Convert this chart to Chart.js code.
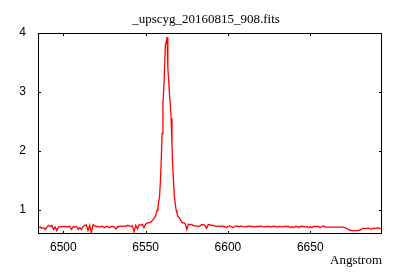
<!DOCTYPE html>
<html>
<head>
<meta charset="utf-8">
<script src="https://cdn.jsdelivr.net/npm/chart.js@4/dist/chart.umd.min.js"></script>
<style>
  html, body { margin:0; padding:0; background:#fff; }
  #wrap { width:400px; height:280px; }
</style>
</head>
<body>
<div id="wrap"><canvas id="spec"></canvas></div>
<script>
const chartTitle = '_upscyg_20160815_908.fits';
const xLabel = 'Angstrom';
const xTicks = [6500, 6550, 6600, 6650];
const yTicks = [1, 2, 3, 4];

// wavelength (Angstrom)
const wavelength = [
  6485,6486,6487,6488,6489,6490,6491,6492,6493,6494,
  6495,6496,6497,6498,6499,6500,6501,6502,6503,6504,
  6505,6506,6507,6508,6509,6510,6511,6512,6513,6514,
  6515,6516,6517,6518,6519,6520,6521,6522,6523,6524,
  6525,6526,6527,6528,6529,6530,6531,6532,6533,6534,
  6535,6536,6537,6538,6539,6540,6541,6542,6543,6544,
  6545,6546,6547,6548,6549,6550,6551,6552,6553,6554,
  6555,6556,
  6556.5,6557,6557.5,6558,6558.5,6559,6559.5,6560,6560.5,6561,
  6561.5,6562,6562.5,6563,6563.5,6564,6564.5,6565,6565.5,6566,
  6566.5,6567,6567.5,6568,6568.5,6569,6569.5,6570,
  6571,6572,6573,6574,6575,6576,6577,6578,6579,6580,
  6581,6582,6583,6584,6585,6586,6587,6588,6589,6590,
  6591,6592,6593,6594,6595,6596,6597,6598,6599,6600,
  6601,6602,6603,6604,6605,6606,6607,6608,6609,6610,
  6611,6612,6613,6614,6615,6616,6617,6618,6619,6620,
  6621,6622,6623,6624,6625,6626,6627,6628,6629,6630,
  6631,6632,6633,6634,6635,6636,6637,6638,6639,6640,
  6641,6642,6643,6644,6645,6646,6647,6648,6649,6650,
  6651,6652,6653,6654,6655,6656,6657,6658,6659,6660,
  6661,6662,6663,6664,6665,6666,6667,6668,6669,6670,
  6671,6672,6673,6674,6675,6676,6677,6678,6679,6680,
  6681,6682,6683,6684,6685,6686,6687,6688,6689,6690,
  6691,6692,6693,6694
];

// normalised flux
const flux = [
  0.70,0.71,0.69,0.70,0.67,0.71,0.74,0.72,0.74,0.67,
  0.71,0.65,0.71,0.72,0.71,0.72,0.72,0.71,0.72,0.72,
  0.67,0.72,0.71,0.72,0.67,0.70,0.67,0.72,0.74,0.75,
  0.65,0.74,0.61,0.75,0.73,0.72,0.72,0.71,0.72,0.72,
  0.70,0.72,0.72,0.70,0.72,0.72,0.71,0.68,0.72,0.72,
  0.73,0.72,0.73,0.72,0.74,0.73,0.72,0.73,0.63,0.74,
  0.68,0.75,0.74,0.76,0.70,0.76,0.78,0.78,0.79,0.82,
  0.85,0.90,
  0.95,1.00,1.05,1.15,1.25,1.50,1.85,2.30,2.80,3.05,
  3.40,3.80,3.85,3.93,3.40,3.20,2.95,2.80,2.55,2.10,
  1.70,1.45,1.22,1.10,1.00,0.95,0.90,0.88,
  0.84,0.79,0.78,0.77,0.67,0.76,0.75,0.76,0.73,0.73,
  0.73,0.72,0.73,0.75,0.75,0.74,0.69,0.75,0.75,0.74,
  0.74,0.73,0.72,0.73,0.72,0.73,0.72,0.72,0.70,0.72,
  0.73,0.72,0.70,0.72,0.73,0.72,0.72,0.73,0.72,0.71,
  0.72,0.72,0.73,0.72,0.72,0.71,0.72,0.72,0.72,0.73,
  0.72,0.71,0.72,0.72,0.72,0.71,0.72,0.72,0.72,0.71,
  0.72,0.72,0.71,0.72,0.72,0.72,0.72,0.70,0.72,0.70,
  0.72,0.72,0.70,0.72,0.72,0.72,0.71,0.72,0.70,0.72,
  0.70,0.72,0.72,0.72,0.72,0.70,0.72,0.73,0.71,0.71,
  0.71,0.71,0.71,0.71,0.71,0.71,0.71,0.71,0.71,0.71,
  0.70,0.69,0.67,0.66,0.65,0.65,0.65,0.65,0.65,0.66,
  0.67,0.69,0.69,0.69,0.69,0.69,0.67,0.69,0.69,0.69,
  0.70,0.69,0.69,0.69
];

const tickFont = { family: '"Liberation Sans", Arial, sans-serif', size: 12 };
const serif = '13px "Liberation Serif", "Times New Roman", serif';

// frame, inward ticks on all four sides, title and axis label (gnuplot look)
const gnuFrame = {
  id: 'gnuFrame',
  afterDraw(chart) {
    const { ctx, chartArea: a, scales } = chart;
    const len = 3;
    ctx.save();
    ctx.strokeStyle = '#000';
    ctx.lineWidth = 1;
    ctx.strokeRect(Math.round(a.left) + 0.5, Math.round(a.top) + 0.5,
                   Math.round(a.right - a.left) - 1, Math.round(a.bottom - a.top) - 1);
    ctx.beginPath();
    xTicks.forEach(v => {
      const x = Math.round(scales.x.getPixelForValue(v)) + 0.5;
      ctx.moveTo(x, a.bottom); ctx.lineTo(x, a.bottom - len);
      ctx.moveTo(x, a.top); ctx.lineTo(x, a.top + len);
    });
    yTicks.forEach(v => {
      const y = Math.round(scales.y.getPixelForValue(v)) + 0.5;
      ctx.moveTo(a.left, y); ctx.lineTo(a.left + len, y);
      ctx.moveTo(a.right, y); ctx.lineTo(a.right - len, y);
    });
    ctx.stroke();

    ctx.fillStyle = '#000';
    ctx.font = serif;
    ctx.textBaseline = 'alphabetic';
    ctx.textAlign = 'center';
    ctx.fillText(chartTitle, 206, 23);
    ctx.textAlign = 'right';
    ctx.fillText(xLabel, a.right, 264);
    ctx.restore();
  }
};

new Chart(document.getElementById('spec'), {
  type: 'scatter',
  data: {
    datasets: [{
      data: wavelength.map((w, i) => ({ x: w, y: flux[i] })),
      showLine: true,
      borderColor: '#ff0000',
      borderWidth: 1.3,
      pointRadius: 0,
      tension: 0
    }]
  },
  options: {
    responsive: true,
    maintainAspectRatio: false,
    animation: false,
    layout: { padding: { top: 33, right: 18, left: 0, bottom: 0 } },
    plugins: { legend: { display: false }, tooltip: { enabled: false } },
    scales: {
      x: {
        type: 'linear', min: 6484.6, max: 6693.6,
        afterBuildTicks: s => { s.ticks = xTicks.map(v => ({ value: v })); },
        afterFit: s => { s.height = 46; },
        grid: { display: false, drawTicks: false },
        border: { display: false },
        ticks: { font: tickFont, color: '#000', padding: 6, maxRotation: 0, autoSkip: false,
                 callback: v => String(v) }
      },
      y: {
        min: 0.593, max: 4,
        afterBuildTicks: s => { s.ticks = yTicks.map(v => ({ value: v })); },
        afterFit: s => { s.width = 38; },
        grid: { display: false, drawTicks: false },
        border: { display: false },
        ticks: { font: tickFont, color: '#000', padding: 12, callback: v => String(v) }
      }
    }
  },
  plugins: [gnuFrame]
});
</script>
</body>
</html>
